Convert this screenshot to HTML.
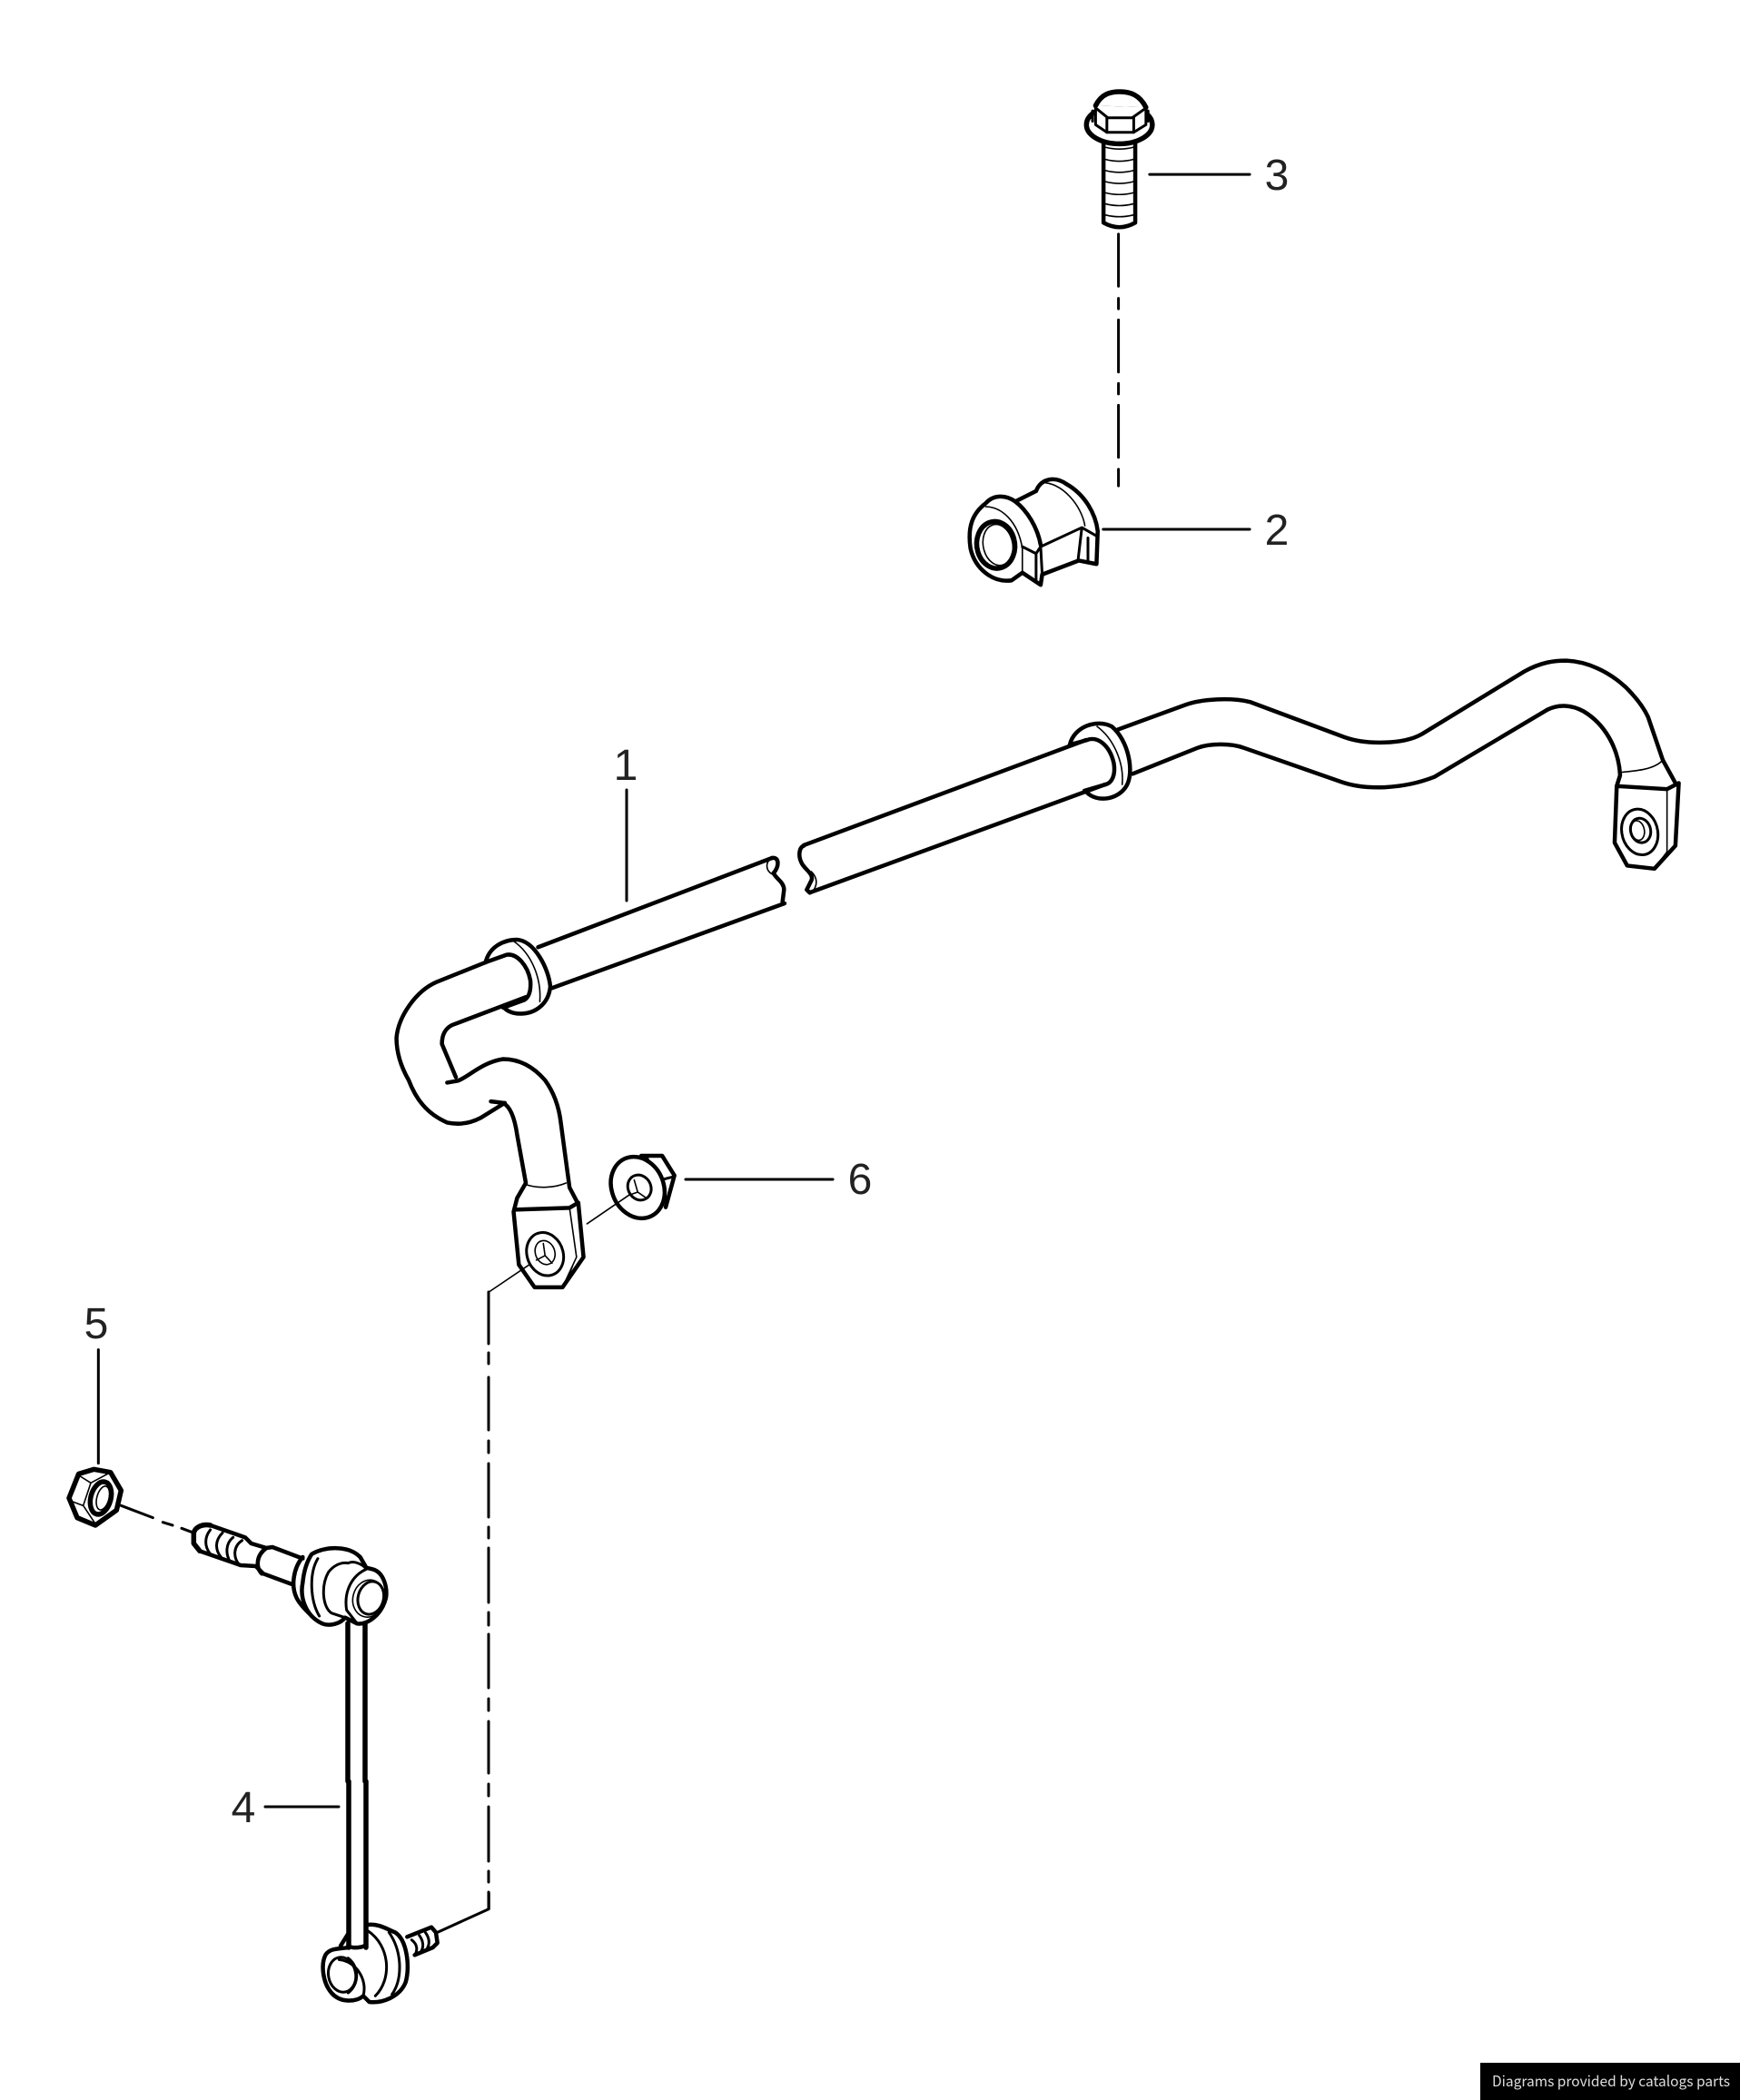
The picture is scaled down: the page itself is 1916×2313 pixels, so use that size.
<!DOCTYPE html>
<html lang="en"><head><meta charset="utf-8"><title>Stabilizer diagram</title>
<style>
html,body{margin:0;padding:0;background:#fff}
svg{display:block}
path,ellipse,line{vector-effect:non-scaling-stroke;fill:none;stroke:#000;stroke-width:4.5;stroke-linecap:round;stroke-linejoin:round}
.t{stroke-width:1.6}
.m{stroke-width:3}
.b{stroke-width:5.5}
.f{fill:#fff}
text.n{font-family:"Liberation Sans",sans-serif;font-size:48px;text-anchor:middle;fill:#222}
</style></head><body>
<svg width="1916" height="2313" viewBox="0 0 1916 2313" xmlns="http://www.w3.org/2000/svg">
<rect width="1916" height="2313" fill="#fff"/>

<!-- bolt and bushing -->
<g transform="translate(1030,80) scale(.336,.3825)">
<path d="M525,95 C545,60 575,55 605,55 C640,55 670,65 690,100"/>
<path class="f" d="M551,205 L551,432 Q603,458 655,432 L655,205"/>
<ellipse class="f b" cx="603" cy="150" rx="108" ry="55"/>
<path class="f m" d="M525,95 L525,150 L562,172 L650,172 L690,150 L690,100"/>
<path class="f b" d="M525,95 C545,60 575,55 605,55 C640,55 670,65 690,100"/>
<path class="m" d="M530,105 L565,130 L645,130 L685,105 M562,130 L562,172 M650,130 L650,172 M515,110 L515,140 M697,110 L697,140"/>
<path class="t" d="M558,215 Q603,225 648,215 M558,250 Q603,260 648,250 M558,282 Q603,292 648,282 M558,314 Q603,324 648,314 M558,346 Q603,356 648,346 M558,378 Q603,388 648,378 M558,410 Q603,420 648,410"/>
<path class="m" d="M702,293 L1030,293 M550,1315 L1030,1315"/>
<path class="m" d="M600,465 L600,615 M600,650 L600,680 M600,712 L600,862 M600,895 L600,925 M600,958 L600,1108 M600,1142 L600,1190"/>
<path class="f" d="M165,1240 C190,1215 230,1215 262,1235 L330,1205 C345,1170 390,1160 430,1185 C490,1215 525,1270 532,1320 L528,1415 L470,1405 L350,1445 L345,1475 L285,1440 L250,1462 C190,1470 130,1430 115,1370 C105,1310 120,1270 165,1240 Z"/>
<path d="M262,1235 C300,1260 335,1310 345,1360"/>
<ellipse class="b" cx="198" cy="1360" rx="62" ry="68" transform="rotate(-18 198 1360)"/>
<ellipse class="t" cx="205" cy="1360" rx="48" ry="60" transform="rotate(-18 205 1360)"/>
<path class="t" d="M165,1250 C215,1250 270,1290 285,1370 L285,1440"/>
<path class="m" d="M285,1365 L330,1385 L345,1365 L480,1310 L530,1335 M330,1385 L330,1465 M345,1365 L350,1445 M480,1310 L468,1400 M500,1340 L500,1412"/>
<path class="t" d="M345,1180 C420,1180 480,1250 490,1305"/>
</g>
<text class="n" x="1406" y="209">3</text>
<text class="n" x="1406" y="600">2</text>

<!-- main bar straight lines and leader 1 -->
<path class="m" d="M690,870 L690,992"/>
<path d="M885,931 L1196,815 M892,983 L1217,864"/>

<!-- left end of bar -->
<g transform="translate(400,980) scale(.385,.333)">
<path d="M500,190 L1169,-105 M540,325 L1205,45"/>
<path d="M350,240 L210,305 C150,335 100,420 95,490 C95,540 110,590 130,630 C150,690 180,740 240,770 C280,780 310,770 335,755 L405,705"/>
<path d="M465,355 L260,445 C235,455 225,480 225,510 L265,620"/>
<path d="M240,638 L270,632 C300,620 340,570 400,560 C450,560 490,590 520,630 C545,670 560,720 565,770 L590,985 L615,1040"/>
<path d="M365,700 L400,705 C425,720 435,770 440,810 L465,970 L440,1020 L430,1065 L445,1240 L490,1315 L570,1315 L630,1215 L615,1035 L590,1052 L432,1058"/>
<path class="t" d="M465,975 C500,990 550,985 580,970"/>
<path class="t" d="M590,1052 L610,1215 L570,1315 M600,1240 L580,1300"/>
<ellipse class="m" cx="520" cy="1205" rx="52" ry="72" transform="rotate(-12 520 1205)"/>
<ellipse class="t" cx="520" cy="1200" rx="28" ry="40" transform="rotate(-12 520 1200)"/>
<path class="t" d="M515,1170 L520,1210 L540,1235 M520,1210 L495,1225"/>
<path d="M350,240 C360,190 400,165 440,165 C490,170 530,260 535,320 C530,380 490,410 450,410 C420,410 405,395 400,385"/>
<path d="M350,240 L410,215 C440,210 470,250 478,300 C480,330 475,355 460,365 L400,390"/>
<path class="t" d="M430,170 C480,210 510,290 505,370"/>
<!-- nut 6 -->
<path d="M795,880 L855,880 L890,945 L865,1050"/>
<path class="m" d="M810,885 L850,960 L865,1020 M850,960 L885,950"/>
<ellipse class="f" cx="785" cy="985" rx="75" ry="103" transform="rotate(-14 785 985)"/>
<ellipse class="m" cx="790" cy="985" rx="33" ry="42" transform="rotate(-14 790 985)"/>
<path class="t" d="M775,960 L785,1000 L810,1020 M760,1010 L785,1000"/>
<path class="m" d="M922,958 L1343,958"/>
<path class="t" d="M640,1105 L760,1010 M360,1330 L475,1240"/>
</g>
<text class="n" x="947" y="1315">6</text>
<text class="n" x="689" y="859">1</text>

<!-- break in bar -->
<g transform="translate(800,900) scale(.3333)">
<path d="M150,135 C175,130 175,165 155,185 C165,205 190,215 190,240 L185,280"/>
<path class="t" d="M150,135 C125,150 130,180 155,190"/>
<path d="M255,95 C240,100 235,130 250,155 C262,175 290,190 280,210 L265,240 L275,250"/>
<path class="t" d="M280,180 C300,200 300,220 290,238"/>
</g>

<!-- right part of bar -->
<g transform="translate(1148,699) scale(.4615,.337)">
<path d="M65,360 C75,300 130,275 165,300 C205,345 220,450 200,495 C180,540 130,550 105,515"/>
<path d="M65,360 L105,345 C130,330 160,360 170,420 C175,460 165,485 150,490 L100,510"/>
<path class="t" d="M130,300 C170,340 195,420 190,490"/>
<path d="M180,310 L340,230 C380,210 450,205 495,220 L720,335 C770,360 860,360 905,325 L1150,120 C1190,90 1220,85 1250,85 C1300,88 1350,120 1390,170 C1420,210 1435,240 1445,270 L1480,410 L1510,485"/>
<path d="M215,455 L370,370 C400,355 450,355 480,370 L710,480 C770,510 860,505 935,465 L1205,245 C1230,228 1260,228 1290,250 C1340,290 1375,370 1378,460 L1370,495"/>
<path class="t" d="M1380,450 C1420,445 1460,440 1480,410"/>
<path d="M1370,495 L1365,680 L1395,755 L1460,765 L1510,690 L1518,485 L1490,505 L1370,495"/>
<path class="t" d="M1490,505 L1490,710 L1460,765 M1505,695 L1470,755"/>
<ellipse class="m" cx="1425" cy="645" rx="43" ry="75" transform="rotate(-6 1425 645)"/>
<ellipse class="m" cx="1427" cy="640" rx="24" ry="40" transform="rotate(-6 1427 640)"/>
<ellipse class="t" cx="1420" cy="640" rx="16" ry="32" transform="rotate(-6 1420 640)"/>
</g>

<!-- dash-dot long line -->
<path class="m" d="M538,1423 L538,1480 M538,1490 L538,1502 M538,1517 L538,1575 M538,1587 L538,1600 M538,1612 L538,1671 M538,1682 L538,1694 M538,1705 L538,1765 M538,1776 L538,1790 M538,1800 L538,1859 M538,1871 L538,1884 M538,1896 L538,1953 M538,1965 L538,1978 M538,1990 L538,2050 M538,2061 L538,2073 M538,2084 L538,2102"/>

<!-- link top + nut 5 -->
<g transform="translate(50,1600) scale(.3333)">
<path class="m" d="M175,-340 L175,35"/>
<path class="b" d="M110,70 L160,55 L215,65 L250,125 L235,190 L165,240 L105,215 L78,150 Z"/>
<path class="t" d="M110,75 L150,100 L215,65 M150,100 L125,175 L85,160 M125,175 L165,235"/>
<ellipse class="b" cx="183" cy="150" rx="33" ry="55" transform="rotate(15 183 150)"/>
<ellipse class="t" cx="190" cy="150" rx="20" ry="40" transform="rotate(15 190 150)"/>
<path class="m" d="M250,175 L355,215 M388,230 L420,240 M450,250 L482,262"/>
<path class="b" d="M490,265 C495,245 520,235 545,240 M490,265 L490,300 L510,325"/>
<path d="M545,240 L660,280 L680,300 L730,315 L750,312 L850,350"/>
<path d="M510,325 L645,372 L695,375 L720,400 L815,435"/>
<path d="M730,315 C695,340 695,380 715,400"/>
<path class="m" d="M545,255 C525,280 525,310 545,335 M585,265 C560,290 560,320 580,345 M620,280 C595,300 595,335 610,360 M650,290 C620,310 620,345 640,370"/>
<path class="f" d="M850,345 C820,380 810,440 830,480 C840,500 860,520 880,540"/>
<path class="f" d="M880,335 C925,310 1000,305 1040,345 L1060,380 L1080,385 C1120,395 1130,450 1125,480 C1110,540 1060,570 1030,565 L990,545 C975,565 940,575 915,565 C860,540 840,480 850,430 C855,380 870,350 880,335 Z"/>
<path class="m" d="M900,350 C870,400 875,490 905,540 M1000,365 C1020,355 1050,370 1060,385 M935,395 C910,440 915,510 945,530 L990,545 M935,395 C950,375 975,360 1000,365"/>
<path class="m" d="M1060,385 C1015,405 985,455 995,520 L1030,565"/>
<ellipse class="t" cx="1068" cy="482" rx="52" ry="62" transform="rotate(15 1068 482)"/>
<ellipse class="m" cx="1075" cy="480" rx="42" ry="55" transform="rotate(15 1075 480)"/>
</g>

<!-- rod -->
<g>
<path class="b" d="M383,1788 L383,1962 M402,1788 L402,1962 M384,1962 L384,2145 M403,1962 L403,2145"/>
<path class="m" d="M292,1990 L373,1990"/>
</g>
<text class="n" x="106" y="1474">5</text>
<text class="n" x="268" y="2007">4</text>

<!-- link bottom -->
<g transform="translate(320,2080) scale(.3333)">
<path d="M190,190 C210,200 240,195 250,185"/>
<path d="M255,120 C290,115 320,135 345,145 C385,170 395,260 380,310 C360,360 300,380 260,375 L240,355 C220,375 165,380 135,345 C105,310 100,250 115,220 C130,195 165,200 190,195"/>
<path d="M190,150 L165,190"/>
<ellipse class="m" cx="170" cy="285" rx="45" ry="58" transform="rotate(-10 170 285)"/>
<path class="m" d="M190,230 C230,260 225,320 190,345 M160,235 C215,240 255,300 240,355 M255,140 C330,190 335,300 280,355 M325,145 C370,210 370,300 335,350"/>
<path d="M385,160 L465,128 L480,145 L485,180 L470,195 L410,220"/>
<path class="m" d="M400,170 C420,185 420,205 410,220 M425,155 C440,175 440,195 430,210 M445,145 C460,165 460,185 450,200"/>
<path class="m" d="M655,15 L655,68 L485,145"/>
</g>

<!-- footer -->
<rect x="1630" y="2272" width="286" height="41" fill="#000"/>
<text x="1643" y="2298" font-family="'Noto Sans CJK SC','DejaVu Sans',sans-serif" font-size="16" fill="#ddd" textLength="262" lengthAdjust="spacingAndGlyphs">Diagrams provided by catalogs parts</text>
</svg>
</body></html>
